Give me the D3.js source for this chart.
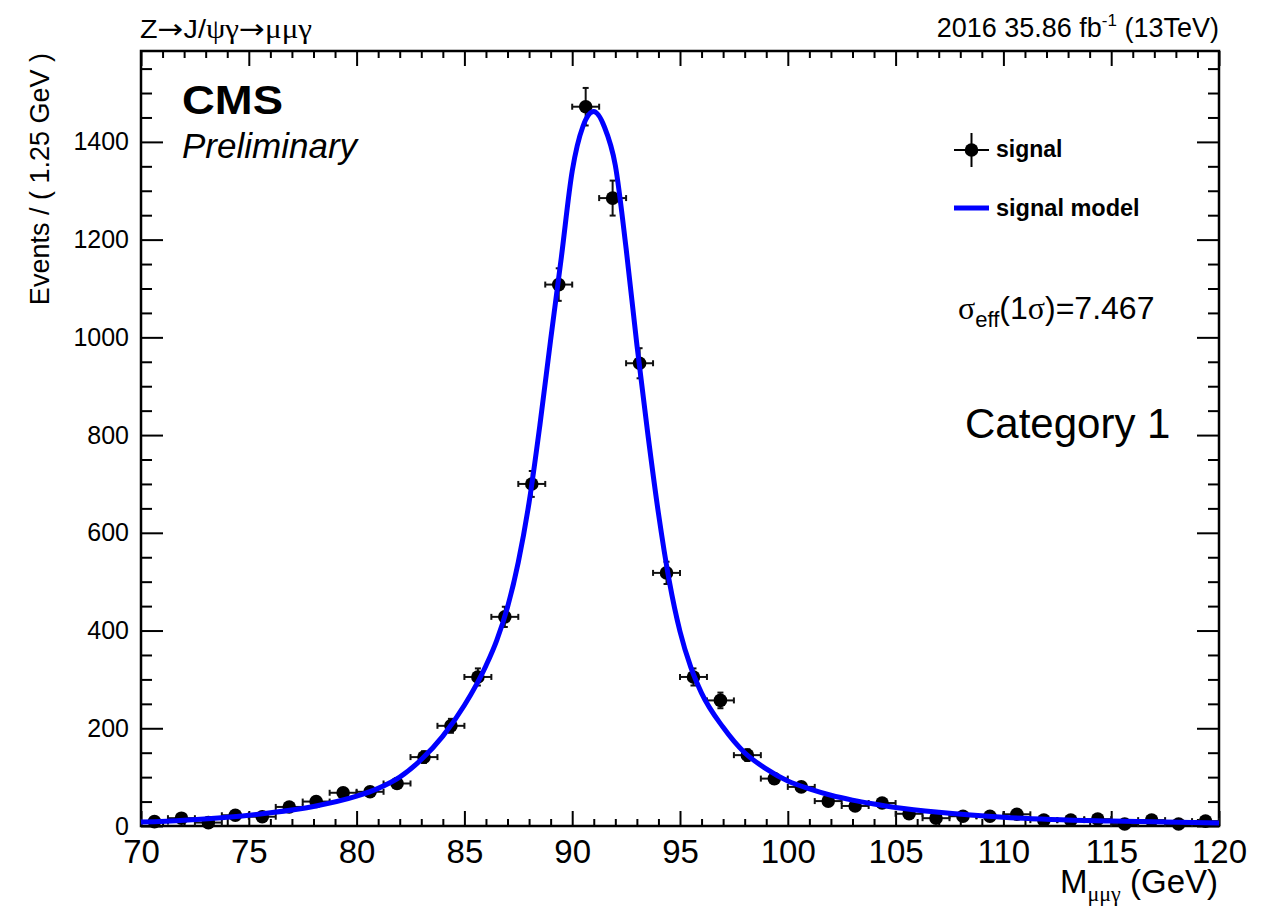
<!DOCTYPE html>
<html>
<head>
<meta charset="utf-8">
<script src="https://cdn.jsdelivr.net/npm/d3@7"></script>
<style>
  html, body { margin: 0; padding: 0; background: #fff; }
  svg { display: block; font-family: "Liberation Sans", Arial, Helvetica, sans-serif; }
</style>
</head>
<body>
<svg id="chart" width="1261" height="908"></svg>
<script>
// ---------------- data ----------------
const massBins = [70.625, 71.875, 73.125, 74.375, 75.625, 76.875, 78.125, 79.375, 80.625, 81.875,
  83.125, 84.375, 85.625, 86.875, 88.125, 89.375, 90.625, 91.875, 93.125, 94.375,
  95.625, 96.875, 98.125, 99.375, 100.625, 101.875, 103.125, 104.375, 105.625, 106.875,
  108.125, 109.375, 110.625, 111.875, 113.125, 114.375, 115.625, 116.875, 118.125, 119.375];
const signalEvents = [9, 16, 7, 22, 19, 39, 50, 68, 70, 87,
  141, 205, 305, 428, 700, 1108, 1472, 1285, 947, 518,
  305, 257, 145, 97, 80, 51, 41, 47, 25, 16,
  20, 20, 24, 12, 12, 14, 4, 12, 4, 10];
const signalErrors = [3, 4, 2.6, 4.7, 4.4, 6.2, 7.1, 8.2, 8.4, 9.3,
  11.9, 14.3, 17.5, 20.7, 26.5, 33.3, 38.4, 35.8, 30.8, 22.8,
  17.5, 16, 12, 9.8, 8.9, 7.1, 6.4, 6.9, 5, 4,
  4.5, 4.5, 4.9, 3.5, 3.5, 3.7, 2, 3.5, 2, 3.2];
const binHalfWidth = 0.625;

const modelMass = [70, 72, 74, 76, 78, 80, 81, 82, 83, 84, 85, 86, 86.5, 87, 87.5, 88, 88.5, 89, 89.5, 90, 90.5, 91,
  91.5, 92, 92.5, 93, 93.5, 94, 94.5, 95, 95.5, 96, 97, 98, 99, 100, 101, 102, 103, 104, 105,
  107, 110, 115, 120];
const modelEvents = [8, 12, 18, 27, 40, 61, 77, 100, 136, 184, 247, 328, 380, 448, 540, 662, 820, 995, 1165, 1340, 1432, 1462,
  1430, 1352, 1182, 985, 805, 640, 502, 398, 325, 272, 202, 150, 117, 92, 76, 63, 53, 45, 38,
  28, 18, 10, 6];

const xMajorTicks = [70, 75, 80, 85, 90, 95, 100, 105, 110, 115, 120];
const yMajorTicks = [0, 200, 400, 600, 800, 1000, 1200, 1400];
const xDomain = [70, 120];
const yDomain = [0, 1586];

// ---------------- layout ----------------
const svg = d3.select("#chart");
const L = 141, R = 1219, T = 51, B = 826;
const x = d3.scaleLinear().domain(xDomain).range([L, R]);
const y = d3.scaleLinear().domain(yDomain).range([B, T]);

const xMinor = d3.range(70, 121, 1).filter(v => v % 5 !== 0);
const yMinor = d3.range(0, 1586, 50).filter(v => v % 200 !== 0);

function styleAxis(g) {
  g.select(".domain").remove();
  g.selectAll(".tick line").attr("stroke", "#000").attr("stroke-width", 2);
}

// bottom axis
svg.append("g").attr("transform", `translate(0,${B})`)
  .call(d3.axisBottom(x).tickValues(xMajorTicks).tickSize(-15).tickSizeOuter(0).tickPadding(14).tickFormat(d3.format("d")))
  .call(styleAxis)
  .call(g => g.selectAll("text").attr("font-size", 33).attr("fill", "#000").attr("font-family", "Liberation Sans, Arial, sans-serif"));
svg.append("g").attr("transform", `translate(0,${B})`)
  .call(d3.axisBottom(x).tickValues(xMinor).tickSize(-7).tickSizeOuter(0).tickFormat(""))
  .call(styleAxis);
// top axis
svg.append("g").attr("transform", `translate(0,${T})`)
  .call(d3.axisTop(x).tickValues(xMajorTicks).tickSize(-15).tickSizeOuter(0).tickFormat(""))
  .call(styleAxis);
svg.append("g").attr("transform", `translate(0,${T})`)
  .call(d3.axisTop(x).tickValues(xMinor).tickSize(-7).tickSizeOuter(0).tickFormat(""))
  .call(styleAxis);
// left axis
svg.append("g").attr("transform", `translate(${L},0)`)
  .call(d3.axisLeft(y).tickValues(yMajorTicks).tickSize(-22).tickSizeOuter(0).tickPadding(12).tickFormat(d3.format("d")))
  .call(styleAxis)
  .call(g => g.selectAll("text").attr("font-size", 25).attr("fill", "#000").attr("font-family", "Liberation Sans, Arial, sans-serif"));
svg.append("g").attr("transform", `translate(${L},0)`)
  .call(d3.axisLeft(y).tickValues(yMinor).tickSize(-11).tickSizeOuter(0).tickFormat(""))
  .call(styleAxis);
// right axis
svg.append("g").attr("transform", `translate(${R},0)`)
  .call(d3.axisRight(y).tickValues(yMajorTicks).tickSize(-22).tickSizeOuter(0).tickFormat(""))
  .call(styleAxis);
svg.append("g").attr("transform", `translate(${R},0)`)
  .call(d3.axisRight(y).tickValues(yMinor).tickSize(-11).tickSizeOuter(0).tickFormat(""))
  .call(styleAxis);

// frame
svg.append("rect").attr("x", L).attr("y", T).attr("width", R - L).attr("height", B - T)
  .attr("fill", "none").attr("stroke", "#000").attr("stroke-width", 2.5);

// ---------------- data points ----------------
const pts = massBins.map((m, i) => ({ m, v: signalEvents[i], e: signalErrors[i] }));
const ptG = svg.append("g").attr("stroke", "#111").attr("stroke-width", 2);
const cap = 3;
pts.forEach(p => {
  const cx = x(p.m), cy = y(p.v);
  const xl = x(p.m - binHalfWidth), xr = x(p.m + binHalfWidth);
  const yt = y(p.v + p.e), yb = y(Math.max(0, p.v - p.e));
  ptG.append("line").attr("x1", xl).attr("x2", xr).attr("y1", cy).attr("y2", cy);
  ptG.append("line").attr("x1", xl).attr("x2", xl).attr("y1", cy - cap).attr("y2", cy + cap);
  ptG.append("line").attr("x1", xr).attr("x2", xr).attr("y1", cy - cap).attr("y2", cy + cap);
  ptG.append("line").attr("x1", cx).attr("x2", cx).attr("y1", yt).attr("y2", yb);
  ptG.append("line").attr("x1", cx - cap).attr("x2", cx + cap).attr("y1", yt).attr("y2", yt);
  ptG.append("line").attr("x1", cx - cap).attr("x2", cx + cap).attr("y1", yb).attr("y2", yb);
});
svg.append("g").selectAll("circle").data(pts).join("circle")
  .attr("cx", d => x(d.m)).attr("cy", d => y(d.v)).attr("r", 6.8).attr("fill", "#000");

// ---------------- model curve ----------------
const model = modelMass.map((m, i) => [m, modelEvents[i]]);
svg.append("path").datum(model)
  .attr("fill", "none").attr("stroke", "#0000ff").attr("stroke-width", 5)
  .attr("d", d3.line().x(d => x(d[0])).y(d => y(d[1])).curve(d3.curveMonotoneX));

// ---------------- texts ----------------
const serif = "Liberation Serif, Times New Roman, serif";
const arrowFont = "DejaVu Sans, sans-serif";
const hdr = svg.append("text").attr("x", 140).attr("y", 38).attr("font-size", 25)
  .attr("textLength", 172).attr("lengthAdjust", "spacingAndGlyphs");
hdr.append("tspan").text("Z");
hdr.append("tspan").attr("font-family", arrowFont).attr("font-size", 27).text("→");
hdr.append("tspan").text("J/");
hdr.append("tspan").attr("font-family", serif).attr("font-size", 27).text("ψγ");
hdr.append("tspan").attr("font-family", arrowFont).attr("font-size", 27).text("→");
hdr.append("tspan").attr("font-family", serif).attr("font-size", 27).text("μμγ");

const lumi = svg.append("text").attr("x", 1219).attr("y", 37).attr("font-size", 27).attr("text-anchor", "end");
lumi.append("tspan").text("2016 35.86 fb");
lumi.append("tspan").attr("font-size", 17).attr("dy", -11).text("-1");
lumi.append("tspan").attr("dy", 11).text(" (13TeV)");

svg.append("text").attr("x", 182).attr("y", 114).attr("font-size", 40).attr("font-weight", "bold")
  .attr("textLength", 101).attr("lengthAdjust", "spacingAndGlyphs").text("CMS");
svg.append("text").attr("x", 182).attr("y", 158).attr("font-size", 35).attr("font-style", "italic").text("Preliminary");

// legend
const lg = svg.append("g");
lg.append("line").attr("x1", 954).attr("x2", 989).attr("y1", 150).attr("y2", 150).attr("stroke", "#000").attr("stroke-width", 2);
lg.append("line").attr("x1", 971.5).attr("x2", 971.5).attr("y1", 133).attr("y2", 167).attr("stroke", "#000").attr("stroke-width", 2);
lg.append("circle").attr("cx", 971.5).attr("cy", 150).attr("r", 6.8).attr("fill", "#000");
lg.append("text").attr("x", 996).attr("y", 157).attr("font-size", 23).attr("font-weight", "bold").text("signal");
lg.append("line").attr("x1", 954).attr("x2", 989).attr("y1", 208).attr("y2", 208).attr("stroke", "#0000ff").attr("stroke-width", 5);
lg.append("text").attr("x", 996).attr("y", 216).attr("font-size", 23.5).attr("font-weight", "bold").text("signal model");

// sigma_eff
const sig = svg.append("text").attr("x", 958).attr("y", 319).attr("font-size", 32);
sig.append("tspan").attr("font-family", serif).text("σ");
sig.append("tspan").attr("font-size", 22).attr("dy", 8).text("eff");
sig.append("tspan").attr("dy", -8).text("(1");
sig.append("tspan").attr("font-family", serif).text("σ");
sig.append("tspan").text(")=7.467");

svg.append("text").attr("x", 965).attr("y", 438).attr("font-size", 42).text("Category 1");

// axis titles
svg.append("text").attr("transform", "translate(49,53) rotate(-90)").attr("text-anchor", "end")
  .attr("font-size", 27).text("Events / ( 1.25 GeV )");
const xt = svg.append("text").attr("x", 1218).attr("y", 893).attr("text-anchor", "end").attr("font-size", 33);
xt.append("tspan").text("M");
xt.append("tspan").attr("font-family", serif).attr("font-size", 22).attr("dy", 8).text("μμγ");
xt.append("tspan").attr("dy", -8).text(" (GeV)");
</script>
</body>
</html>
